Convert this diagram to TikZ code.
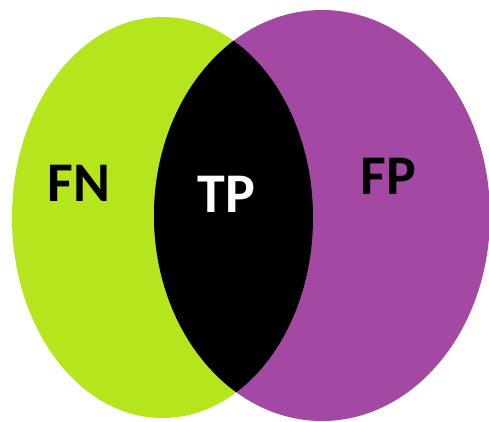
\documentclass[tikz,border=0pt]{standalone}
\usepackage{fontspec}
\setmainfont{Carlito}
\definecolor{limegreen}{HTML}{B5E61D}
\definecolor{paintpurple}{HTML}{A349A4}
\begin{document}
\begin{tikzpicture}[x=1pt,y=-1pt,
  lbl/.style={inner sep=0pt,font=\fontsize{56}{60}\selectfont\bfseries}]
\useasboundingbox (0,0) rectangle (489,421);
\fill[limegreen] (162.5,217.5) ellipse [x radius=150.5, y radius=200.5];
\fill[paintpurple] (322,215.5) ellipse [x radius=168, y radius=205.5];
\begin{scope}
  \clip (162.5,217.5) ellipse [x radius=150.5, y radius=200.5];
  \fill[black] (322,215.5) ellipse [x radius=168, y radius=205.5];
\end{scope}
\node[lbl,text=black] (fn) at (79,183.5) {FN};
\node[lbl,text=white] (tp) at (226.5,194.5) {TP};
\node[lbl,text=black] (fp) at (388.5,176) {FP};
\end{tikzpicture}
\end{document}
